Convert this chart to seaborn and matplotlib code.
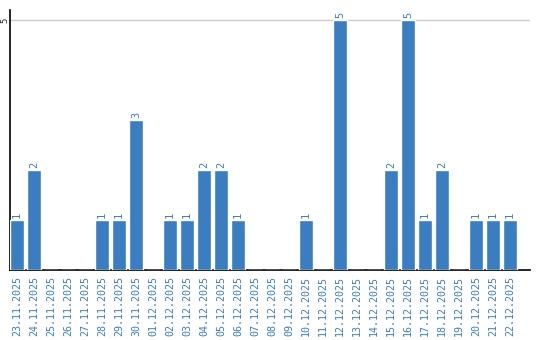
import matplotlib
matplotlib.use("Agg")
import matplotlib.pyplot as plt
import seaborn as sns
import pandas as pd

dates = ["23.11.2025", "24.11.2025", "25.11.2025", "26.11.2025", "27.11.2025",
         "28.11.2025", "29.11.2025", "30.11.2025", "01.12.2025", "02.12.2025",
         "03.12.2025", "04.12.2025", "05.12.2025", "06.12.2025", "07.12.2025",
         "08.12.2025", "09.12.2025", "10.12.2025", "11.12.2025", "12.12.2025",
         "13.12.2025", "14.12.2025", "15.12.2025", "16.12.2025", "17.12.2025",
         "18.12.2025", "19.12.2025", "20.12.2025", "21.12.2025", "22.12.2025"]
counts = [1, 2, 0, 0, 0, 1, 1, 3, 0, 1,
          1, 2, 2, 1, 0, 0, 0, 1, 0, 5,
          0, 0, 2, 5, 1, 2, 0, 1, 1, 1]

df = pd.DataFrame({"date": dates, "count": counts})

sns.set_style("white")
plt.rcParams['font.family'] = ['DejaVu Sans Mono', 'DejaVu Sans']

bar_color = "#3b7dc1"
fig = plt.figure(figsize=(5.4, 3.4), dpi=100)
ax = fig.add_axes([10/540, 1 - 270/340, 520/540, 260/340])

sns.barplot(data=df, x="date", y="count", color=bar_color, saturation=1,
            width=14/17, ax=ax, zorder=3)

ax.set_xlim(-0.41, 30.18)
ax.set_ylim(0, 5.2)
ax.set_yticks([5])
ax.set_yticklabels(["5"], rotation=90, va="center", fontsize=6.5)
ax.yaxis.grid(True, color="#cccccc", linewidth=1)
ax.set_axisbelow(True)
ax.tick_params(axis="y", length=0, pad=0.5)
ax.tick_params(axis="x", length=0, pad=4)
for lbl in ax.get_xticklabels():
    lbl.set_rotation(90)
    lbl.set_fontsize(7.2)
    lbl.set_color(bar_color)
ax.set_xlabel("")
ax.set_ylabel("")
for s in ["top", "right"]:
    ax.spines[s].set_visible(False)
ax.spines["left"].set_color("black")
ax.spines["bottom"].set_color("black")
ax.spines["left"].set_linewidth(1.2)
ax.spines["bottom"].set_linewidth(1.2)

for i, v in enumerate(counts):
    if v > 0:
        ax.text(i, v + 0.04, str(v), rotation=90, ha="center", va="bottom",
                fontsize=7.5, color=bar_color)

fig.savefig("out.png", dpi=100)
